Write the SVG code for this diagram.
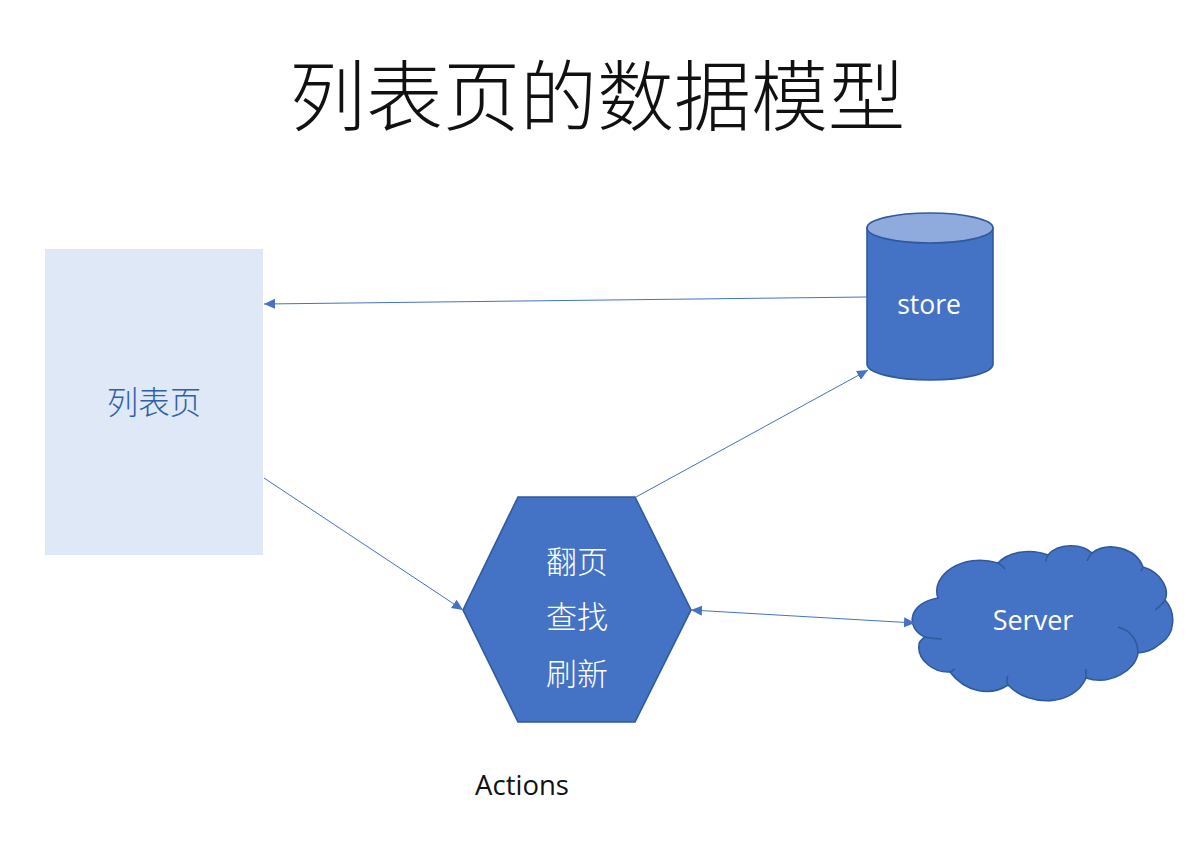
<svg xmlns="http://www.w3.org/2000/svg" width="1191" height="841" viewBox="0 0 1191 841">
<style>
text{font-family:"Noto Sans CJK SC","Open Sans",sans-serif;text-anchor:middle}
.en{font-family:"Open Sans","Noto Sans",sans-serif}
.w{fill:#fff;font-size:31px;font-weight:300}
.s{fill:#4472c4;stroke:#2f5a9e;stroke-width:1.6}
.c{fill:none;stroke:#2f5a9e;stroke-width:1.5}
.l{fill:none;stroke:#4472c4;stroke-width:1}
</style>
<defs>
<marker id="a" markerWidth="12" markerHeight="11" refX="11" refY="5" orient="auto-start-reverse" markerUnits="userSpaceOnUse"><path d="M0 0L11 5L0 10Z" fill="#4472c4"/></marker>
</defs>
<rect width="1191" height="841" fill="#fff"/>
<text id="title" x="597" y="125" font-size="77" font-weight="300" fill="#111">列表页的数据模型</text>
<g id="list"><rect x="45" y="249" width="218" height="306" fill="#dee8f6"/><text x="154" y="414" font-size="31.5" font-weight="300" fill="#2f5fa8">列表页</text></g>
<g id="store">
<path class="s" d="M867 228V364C867 373 895 380 930 380S993 373 993 364V228Z"/>
<ellipse cx="930" cy="228" rx="63" ry="15" fill="#8faadc" stroke="#2f5a9e" stroke-width="1.6"/>
<text class="w en" x="929" y="314" style="font-size:26.5px;font-weight:400">store</text>
</g>
<g id="actions">
<polygon class="s" points="518,497 635,497 691,610 635,722 518,722 463,610"/>
<text class="w" x="577" y="573">翻页</text><text class="w" x="577" y="628">查找</text><text class="w" x="577" y="685">刷新</text>
</g>
<g id="server">
<path class="s" d="M938 598C930 576 962 552 998 563C1008 552 1030 548 1048 555C1058 543 1082 543 1092 553C1108 541 1136 548 1143 567C1160 572 1170 588 1165 600C1176 612 1176 634 1160 644C1152 651 1145 652 1138 653C1136 670 1110 686 1086 678C1074 706 1030 708 1008 685C990 697 965 692 950 672C934 673 917 660 919 645C919 642 922 639 925 637C905 628 908 603 938 598Z"/>
<path class="c" d="M998 563Q1003 566 1005 569M1048 555Q1046 558 1046 562M1092 553Q1089 556 1087 561M1143 567L1141 571M1165 600Q1162 605 1155 610M1138 653C1138 640 1130 630 1118 627M1086 678V669M1008 685Q1006 680 1008 676M950 672L955 669M925 637Q933 639 942 639"/>
<text class="w en" x="1033" y="630" style="font-size:27px;font-weight:400">Server</text>
</g>
<g id="connectors">
<path class="l" marker-end="url(#a)" d="M867 297L264 304"/>
<path class="l" marker-end="url(#a)" d="M636 497L868 370"/>
<path class="l" marker-end="url(#a)" d="M264 478L463 610"/>
<path class="l" marker-start="url(#a)" marker-end="url(#a)" d="M691 610L915 623"/>
</g>
<text id="actions-label" class="en" x="522" y="795" font-size="27.5" fill="#111">Actions</text>
</svg>
